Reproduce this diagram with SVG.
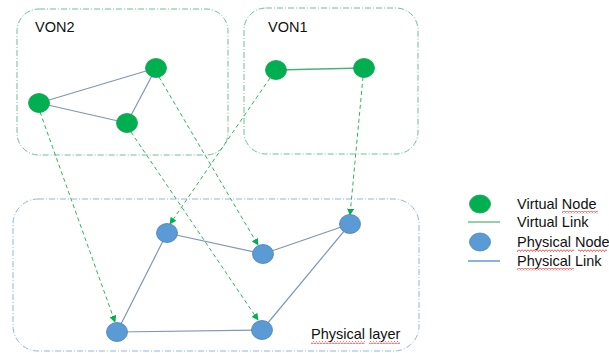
<svg xmlns="http://www.w3.org/2000/svg" width="609" height="353" viewBox="0 0 609 353">
<defs>
<style>
.vbox{fill:none;stroke:#6fbf93;stroke-width:1;stroke-dasharray:6 2 1 2}
.pbox{fill:none;stroke:#8fb7dd;stroke-width:1;stroke-dasharray:6 2 1 2}
.vn{fill:#00b050;stroke:#10a050;stroke-width:0.8}
.pn{fill:#5b9bd5;stroke:#4a7fb5;stroke-width:0.8}
.plink{stroke:#8096b4;stroke-width:1.2;fill:none}
.vlink{stroke:#8096b4;stroke-width:1.2;fill:none}
.vlink1{stroke:#4cb07a;stroke-width:1.3;fill:none}
.map{stroke:#2fb55a;stroke-width:1;stroke-dasharray:4 3;fill:none;marker-end:url(#arr)}
.t{font-family:"Liberation Sans",Arial,sans-serif;font-size:14.5px;fill:#111}
.sq{fill:url(#wave)}
</style>
<pattern id="wave" patternUnits="userSpaceOnUse" x="0" y="0" width="3" height="3">
<path d="M0,0.5 L1.5,2.5 L3,0.5" fill="none" stroke="#e03030" stroke-width="0.8"/>
</pattern>
<marker id="arr" viewBox="0 0 10 10" refX="9" refY="5" markerWidth="7" markerHeight="7" orient="auto" markerUnits="userSpaceOnUse">
<path d="M0,0 L10,5 L0,10 z" fill="#00b050"/>
</marker>
</defs>
<g id="boxes">
<rect id="von2-box" class="vbox" x="17" y="9" width="211" height="146" rx="22"/>
<rect id="von1-box" class="vbox" x="244" y="8" width="174" height="146" rx="22"/>
<rect id="phys-box" class="pbox" x="13" y="199" width="406" height="152" rx="25"/>
</g>
<g id="connectors">
<line class="vlink" x1="39" y1="103" x2="156" y2="68"/>
<line class="vlink" x1="39" y1="103" x2="127" y2="123"/>
<line class="vlink" x1="127" y1="123" x2="156" y2="68"/>
<line class="vlink1" x1="276" y1="70" x2="364" y2="68"/>
<line class="plink" x1="167" y1="233" x2="263" y2="254"/>
<line class="plink" x1="167" y1="233" x2="117" y2="332"/>
<line class="plink" x1="117" y1="332" x2="262" y2="330"/>
<line class="plink" x1="263" y1="254" x2="350" y2="224"/>
<line class="plink" x1="350" y1="224" x2="262" y2="330"/>
<line class="map" x1="40" y1="112" x2="115" y2="322"/>
<line class="map" x1="131" y1="132" x2="258" y2="320"/>
<line class="map" x1="159" y1="77" x2="258" y2="245"/>
<line class="map" x1="270" y1="78" x2="170" y2="224"/>
<line class="map" x1="363" y1="77" x2="350" y2="215"/>
</g>
<g id="von2">
<text class="t" x="35" y="32">VON2</text>
<g id="v-a"><ellipse class="vn" cx="156" cy="68" rx="10.5" ry="9.5"/></g>
<g id="v-b"><ellipse class="vn" cx="39" cy="103" rx="10.5" ry="9.5"/></g>
<g id="v-c"><ellipse class="vn" cx="127" cy="123" rx="10.5" ry="9.5"/></g>
</g>
<g id="von1">
<text class="t" x="268" y="32">VON1</text>
<g id="v-d"><ellipse class="vn" cx="276" cy="70" rx="10.5" ry="9.5"/></g>
<g id="v-e"><ellipse class="vn" cx="364" cy="68" rx="10.5" ry="9.5"/></g>
</g>
<g id="physical">
<g id="p1"><ellipse class="pn" cx="167" cy="233" rx="10.5" ry="9.5"/></g>
<g id="p2"><ellipse class="pn" cx="117" cy="332" rx="10.5" ry="9.5"/></g>
<g id="p3"><ellipse class="pn" cx="263" cy="254" rx="10.5" ry="9.5"/></g>
<g id="p4"><ellipse class="pn" cx="350" cy="224" rx="10.5" ry="9.5"/></g>
<g id="p5"><ellipse class="pn" cx="262" cy="330" rx="10.5" ry="9.5"/></g>
<text class="t" x="311" y="339">Physical layer</text>
<rect class="sq" x="311" y="341" width="54" height="3"/>
<rect class="sq" x="369" y="341" width="31" height="3"/>
</g>
<g id="legend">
<ellipse class="vn" cx="480" cy="204" rx="10.5" ry="9"/>
<text class="t" x="517" y="209">Virtual Node</text>
<rect class="sq" x="562" y="211" width="36" height="3"/>
<line x1="468" y1="222" x2="500" y2="222" stroke="#70c28f" stroke-width="1.5"/>
<text class="t" x="517" y="227">Virtual Link</text>
<ellipse class="pn" cx="480" cy="242" rx="10.5" ry="9"/>
<text class="t" x="517" y="247">Physical Node</text>
<rect class="sq" x="517" y="249" width="57" height="3"/>
<rect class="sq" x="578" y="249" width="29" height="3"/>
<line x1="468" y1="261" x2="500" y2="261" stroke="#5b9bd5" stroke-width="1.5"/>
<text class="t" x="517" y="266">Physical Link</text>
<rect class="sq" x="517" y="268" width="57" height="3"/>
</g>
</svg>
